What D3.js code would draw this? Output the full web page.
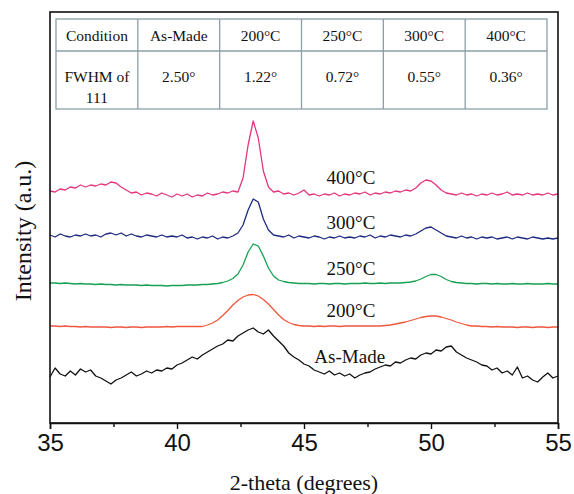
<!DOCTYPE html>
<html>
<head>
<meta charset="utf-8">
<script src="https://cdn.jsdelivr.net/npm/d3@7"></script>
<style>
  body { margin: 0; background: #fff; }
  svg { display: block; }
</style>
</head>
<body>
<div id="chart"></div>
<script>
// table contents
const conditions = ['As-Made', '200°C', '250°C', '300°C', '400°C'];
const fwhm = ['2.50°', '1.22°', '0.72°', '0.55°', '0.36°'];

// sampling grid of the scans (2-theta, degrees), 0.2 deg step
const theta = d3.range(101).map(i => +(35 + i * 0.2).toFixed(1));

// intensities (a.u., already stacked)
const asMade = [46,55,49,47,52,48,54,51,53,47,45,42,39,43,45,48,51,47,49,52,
  50,53,52,55,54,58,60,63,66,64,68,71,74,77,79,83,82,87,90,93,
  95,91,89,93,87,82,77,70,66,63,59,57,53,51,49,52,48,50,47,49,
  45,48,50,51,54,56,58,57,61,60,63,65,64,68,70,69,73,72,76,77,
  71,68,65,63,61,58,57,53,55,50,52,48,56,45,47,43,41,46,50,45,47];
const c200 = [97,97,96.5,97,96.5,96.5,96,96.5,96,96,96,96,95.5,96,96,95.5,96,96,95.5,96,
  96,96,96,96.5,96,96.5,96.5,96.5,96.5,96.5,96.5,98,100,103,107.5,112.5,118,122.5,126,128,
  128.5,127,123.5,119,113.5,108,103.5,100.5,98.5,97.5,97,97,96.5,97,96.5,97,97,96.5,97,97,
  97,97,97,97,97,97,97.5,98,99,100,101,102.5,104,105.5,106.5,107,107,106,104.5,103,
  101,99.5,98,97,97,96.5,96.5,96,96.5,96,96,96,95.5,96,96,95.5,96,96,95.5,96,96];
const c250 = [140,140,139.5,140,139.5,139,139.5,139,139,138.5,139,138.5,138.5,138,138.5,138,138,138,137.5,138,
  137.5,137.5,137.5,137,137.5,137.5,137.5,138,138,138,138.5,138.5,139,139.5,140.5,142,144.5,149,158,171,
  179,177,167,155,147,143,141.5,140.5,140,139.5,139.5,139.5,139,139.5,139.5,139,139.5,139.5,139,139.5,
  139.5,139.5,140,139.5,139.5,140,139.5,140,140,140,140.5,141,142,144,146.5,148.5,148.5,146.5,143.5,141.5,
  140.5,140,139.5,139.5,139,139.5,139.5,139,139.5,139,139,139.5,139,139,139.5,139,139,139,139.5,139,139];
const c300 = [188,186,189,187,186,188,187,189,187,188,186,189,190,188,190,187,189,187,186,188,
  187,186,188,186,187,186,188,185,186,184,186,185,187,184,186,185,187,190,198,213,
  224,221,204,193,188,187,186,188,185,187,186,185,187,186,184,186,185,187,185,186,
  185,187,186,188,185,187,186,188,187,186,188,187,189,192,195,196,193,190,187,186,
  185,187,185,186,184,186,185,186,184,185,186,184,186,185,184,186,185,184,185,184,185];
const c400 = [232,231,234,233,236,235,238,236,238,237,239,238,241,240,236,233,230,231,228,230,
  229,227,230,228,226,229,227,229,226,228,227,230,228,229,231,230,232,231,245,278,
  302,285,252,236,231,232,229,230,228,230,233,228,229,227,229,228,230,227,229,228,
  230,229,231,228,230,229,231,230,232,231,233,232,235,240,243,242,238,233,230,229,
  228,230,228,229,227,229,228,230,228,229,231,228,229,228,230,228,229,228,230,228,229];

const seriesNames = ['As-Made', '200°C', '250°C', '300°C', '400°C'];
const seriesValues = [asMade, c200, c250, c300, c400];
const seriesColors = ['#111111', '#f0573c', '#16a052', '#1e2a82', '#e4367e'];
const labelTheta = [46.8, 46.85, 46.85, 46.85, 46.85];

const xTicks = [35, 40, 45, 50, 55];
const xMinorTicks = [37.5, 42.5, 47.5, 52.5];

const width = 574, height = 494;
const margin = {left: 50, right: 16, top: 12, bottom: 71};

const svg = d3.select('#chart')
  .append('svg')
    .attr('width', width)
    .attr('height', height);

svg.append('rect')
  .attr('width', width).attr('height', height)
  .attr('fill', '#fff');

const x = d3.scaleLinear()
  .domain([35, 55])
  .range([margin.left, width - margin.right]);
const y = d3.scaleLinear()
  .domain([0, 411])
  .range([height - margin.bottom, margin.top]);

/* scans */
const line = d3.line()
  .x(d => x(d[0]))
  .y(d => y(d[1]));

svg.append('g')
  .selectAll('path')
  .data(seriesValues)
  .join('path')
    .attr('d', vals => line(vals.map((v, i) => [theta[i], v])))
    .attr('fill', 'none')
    .attr('stroke', (d, i) => seriesColors[i])
    .attr('stroke-width', 1.3)
    .attr('stroke-linejoin', 'round');

// curve labels, sitting just above each trace
svg.append('g')
  .selectAll('text')
  .data(seriesNames)
  .join('text')
    .attr('x', (d, i) => x(labelTheta[i]))
    .attr('y', (d, i) => {
      const k = d3.bisectLeft(theta, labelTheta[i]);
      return y(seriesValues[i][k]) - (i === 0 ? 11 : 9);
    })
    .attr('text-anchor', 'middle')
    .attr('font-family', '"Liberation Serif", "Times New Roman", serif')
    .attr('font-size', 19)
    .attr('fill', '#111')
    .text(d => d);

/* frame */
svg.append('rect')
  .attr('x', x(35))
  .attr('y', y(411))
  .attr('width', x(55) - x(35))
  .attr('height', y(0) - y(411))
  .attr('fill', 'none')
  .attr('stroke', '#111')
  .attr('stroke-width', 1.6);

/* x axis */
const xAxis = svg.append('g')
  .attr('transform', `translate(0,${y(0)})`)
  .call(d3.axisBottom(x).tickValues(xTicks).tickSize(6).tickPadding(5).tickFormat(d3.format('d')));
xAxis.select('.domain').attr('stroke', '#111').attr('stroke-width', 1.6);
xAxis.selectAll('.tick line').attr('stroke', '#111').attr('stroke-width', 1.4);
xAxis.selectAll('text')
  .attr('font-family', '"Liberation Sans", Arial, sans-serif')
  .attr('font-size', 24)
  .attr('fill', '#111');
svg.append('g')
  .attr('transform', `translate(0,${y(0)})`)
  .call(d3.axisBottom(x).tickValues(xMinorTicks).tickSize(4).tickFormat(''))
  .call(g => g.select('.domain').remove())
  .selectAll('.tick line').attr('stroke', '#111').attr('stroke-width', 1.4);

svg.append('text')
  .attr('x', x(45))
  .attr('y', 490)
  .attr('text-anchor', 'middle')
  .attr('font-family', '"Liberation Serif", "Times New Roman", serif')
  .attr('font-size', 22)
  .attr('fill', '#111')
  .text('2-theta (degrees)');

svg.append('text')
  .attr('transform', 'translate(31,231) rotate(-90)')
  .attr('text-anchor', 'middle')
  .attr('font-family', '"Liberation Serif", "Times New Roman", serif')
  .attr('font-size', 24)
  .attr('fill', '#111')
  .text('Intensity (a.u.)');

/* FWHM table */
const tableCols = ['Condition'].concat(conditions);
const col = d3.scaleBand()
  .domain(d3.range(tableCols.length))
  .range([56, 547]);
const rowTop = 19, rowMid = 51, rowBot = 109;
const table = svg.append('g')
  .attr('font-family', '"Liberation Serif", "Times New Roman", serif')
  .attr('font-size', 15.5)
  .attr('fill', '#111');

table.append('rect')
  .attr('x', col(0)).attr('y', rowTop)
  .attr('width', col.bandwidth() * tableCols.length)
  .attr('height', rowBot - rowTop)
  .attr('fill', 'none')
  .attr('stroke', '#8d9ea6')
  .attr('stroke-width', 1.3);
table.append('line')
  .attr('x1', col(0)).attr('x2', col(0) + col.bandwidth() * tableCols.length)
  .attr('y1', rowMid).attr('y2', rowMid)
  .attr('stroke', '#8d9ea6').attr('stroke-width', 1.3);
table.selectAll('line.sep')
  .data(d3.range(1, tableCols.length))
  .join('line')
    .attr('class', 'sep')
    .attr('x1', d => col(d)).attr('x2', d => col(d))
    .attr('y1', rowTop).attr('y2', rowBot)
    .attr('stroke', '#8d9ea6').attr('stroke-width', 1.3);

table.selectAll('text.head')
  .data(tableCols)
  .join('text')
    .attr('class', 'head')
    .attr('x', (d, i) => col(i) + col.bandwidth() / 2)
    .attr('y', 41)
    .attr('text-anchor', 'middle')
    .text(d => d);

const rowTwo = ['FWHM of'].concat(fwhm);
table.selectAll('text.val')
  .data(rowTwo)
  .join('text')
    .attr('class', 'val')
    .attr('x', (d, i) => col(i) + col.bandwidth() / 2)
    .attr('y', 82)
    .attr('text-anchor', 'middle')
    .text(d => d);
table.append('text')
  .attr('x', col(0) + col.bandwidth() / 2)
  .attr('y', 103)
  .attr('text-anchor', 'middle')
  .text('111');
</script>
</body>
</html>
